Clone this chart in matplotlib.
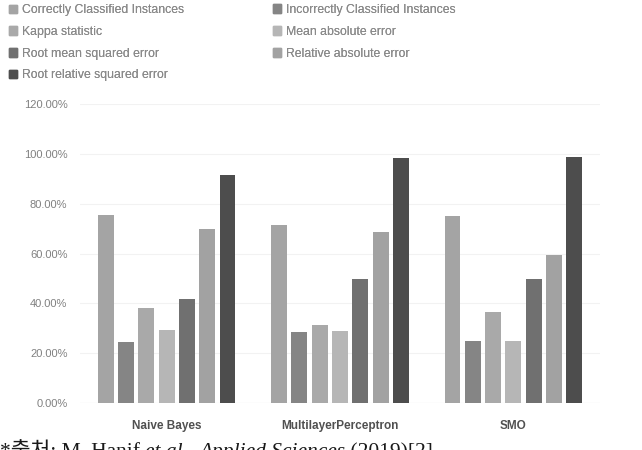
import numpy as np
import matplotlib.pyplot as plt
from matplotlib.patches import Patch

classifiers = ['Naive Bayes', 'MultilayerPerceptron', 'SMO']
metrics = ['Correctly Classified Instances', 'Incorrectly Classified Instances',
           'Kappa statistic', 'Mean absolute error',
           'Root mean squared error', 'Relative absolute error',
           'Root relative squared error']

correct = [75.5, 71.5, 74.9]
incorrect = [24.5, 28.3, 24.8]
kappa = [38.1, 31.5, 36.5]
mae = [29.2, 28.8, 24.8]
rmse = [41.9, 49.9, 49.9]
rae = [70.0, 68.5, 59.2]
rrse = [91.6, 98.5, 98.9]

series = [correct, incorrect, kappa, mae, rmse, rae, rrse]
colors = ['#a4a4a4', '#858585', '#a9a9a9', '#b6b6b6', '#707070', '#a2a2a2', '#4d4d4d']

fig = plt.figure(figsize=(6.42, 4.5), dpi=100)
ax = fig.add_axes([80 / 642, 1 - 403 / 450, 520 / 642, 299 / 450])

x = np.arange(len(classifiers))
pitch = 0.117
w = 0.092
for i, (vals, c) in enumerate(zip(series, colors)):
    ax.bar(x + (i - 3) * pitch, vals, width=w, color=c, zorder=3)

ax.set_xlim(-0.5, 2.5)
ax.set_ylim(0, 120)
ax.set_yticks(np.arange(0, 121, 20))
ax.set_yticklabels(['%.2f%%' % v for v in np.arange(0, 121, 20)],
                   fontsize=8, color='#808080', family='Liberation Sans')
ax.set_xticks(x)
ax.set_xticklabels(classifiers, fontsize=8.5, color='#505050', fontweight='bold',
                   family='Liberation Sans')
ax.tick_params(axis='x', length=0, pad=12)
ax.tick_params(axis='y', length=0, pad=9)
ax.grid(axis='y', color='#f2f2f2', linewidth=0.8, zorder=0)
ax.axhline(0, color='#e6e6e6', linewidth=0.8, zorder=2)
for s in ax.spines.values():
    s.set_visible(False)

# legend: two columns, placed separately
handles = [Patch(color=c) for c in colors]
cols = [[0, 2, 4, 6], [1, 3, 5]]
anchors = [0.0, 264 / 642]
for idx, xa in zip(cols, anchors):
    leg = fig.legend([handles[k] for k in idx], [metrics[k] for k in idx],
                     loc='upper left', bbox_to_anchor=(xa, 1.01),
                     frameon=False, prop={'family': 'Liberation Sans', 'size': 8.8},
                     handlelength=0.7, handleheight=0.7,
                     handletextpad=0.4, labelspacing=0.8, borderaxespad=0.3)
    for t in leg.get_texts():
        t.set_color('#8a8a8a')
    fig.add_artist(leg)

# source caption, cut at the bottom edge as in the source image
serif = ['Liberation Serif', 'Noto Sans CJK KR']
parts = [('*출처: M. Hanif ', 'normal'), ('et al.', 'italic'), (', ', 'normal'),
         ('Applied Sciences', 'italic'), (' (2019)[2]', 'normal')]
prev = fig.text(0.0, -0.016, parts[0][0], fontsize=15.5, color='#1a1a1a',
                family=serif, va='baseline')
for txt, st in parts[1:]:
    prev = ax.annotate(txt, xy=(1, 0), xycoords=prev, va='bottom', ha='left',
                       fontsize=15.5, color='#1a1a1a', style=st, family=serif,
                       annotation_clip=False)

fig.savefig('out.png', dpi=100)
